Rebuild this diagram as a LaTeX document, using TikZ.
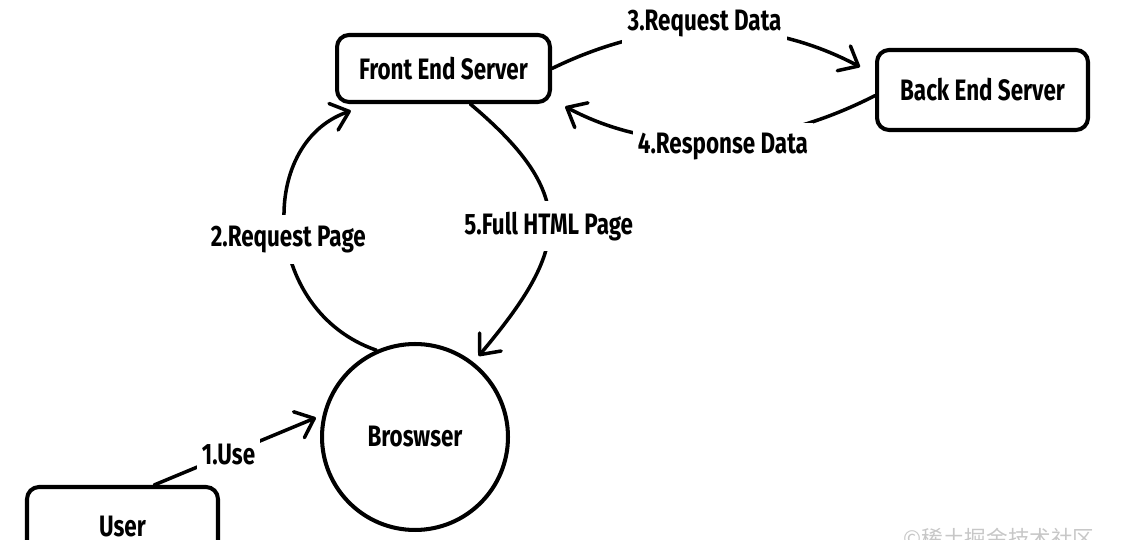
\documentclass[tikz,border=0pt]{standalone}
\usepackage{fontspec}
\newfontfamily\hand{Fira Sans}[FakeStretch=0.76]
\newfontfamily\cjk{Noto Sans CJK SC}
\usetikzlibrary{arrows.meta}
\begin{document}
\begin{tikzpicture}[x=0.02cm,y=0.02cm,
  txt/.style={font=\hand\bfseries\fontsize{16.8}{19}\selectfont},
  box/.style={txt, draw, line width=2.3pt, rounded corners=0.24cm, inner sep=0pt},
  conn/.style={line width=2pt, line cap=round, -{Straight Barb[length=0.33cm,width=0.56cm,round]}},
  lbl/.style={txt, fill=white, inner xsep=3pt, inner ysep=6pt}
]
\useasboundingbox (0,0) rectangle (1135,540);
\node[box, minimum width=4.26cm, minimum height=1.34cm] (fes) at (443.5,471.5) {Front End Server};
\node[box, minimum width=4.22cm, minimum height=1.6cm] (bes) at (982.5,450) {Back End Server};
\node[box, minimum width=3.82cm, minimum height=1.6cm] (user) at (122.5,13) {User};
\node[txt, draw, circle, line width=2.3pt, minimum size=3.72cm, inner sep=0pt] (browser) at (415,103) {Broswser};

\draw[conn] (user.53) -- node[lbl, pos=0.46] {1.Use} ([shift={(169:0.12cm)}]browser.169);
\draw[conn, shorten >=0.42cm] (browser.114) to[out=161, in=199, looseness=1.26] node[lbl, pos=0.46] {2.Request Page} (fes.206.7);
\draw[conn, shorten >=0.16cm] (fes.-53.8) to[out=-40, in=50, looseness=1.44] node[lbl, pos=0.5] {5.Full HTML Page} (browser.52);
\draw[conn, shorten >=0.34cm] (fes.east) to[out=26, in=152, looseness=0.96] node[lbl, pos=0.47, yshift=0.14cm] {3.Request Data} (bes.172);
\draw[conn, shorten >=0.3cm] (bes.183) to[out=207, in=-28, looseness=0.95] node[lbl, pos=0.47, yshift=-0.16cm] {4.Response Data} (fes.-16.5);

\node[text=black!22, font=\cjk\fontsize{12.3}{14}\selectfont, anchor=north, inner sep=0pt] (wm) at (999,12) {©稀土掘金技术社区};
\end{tikzpicture}
\end{document}
